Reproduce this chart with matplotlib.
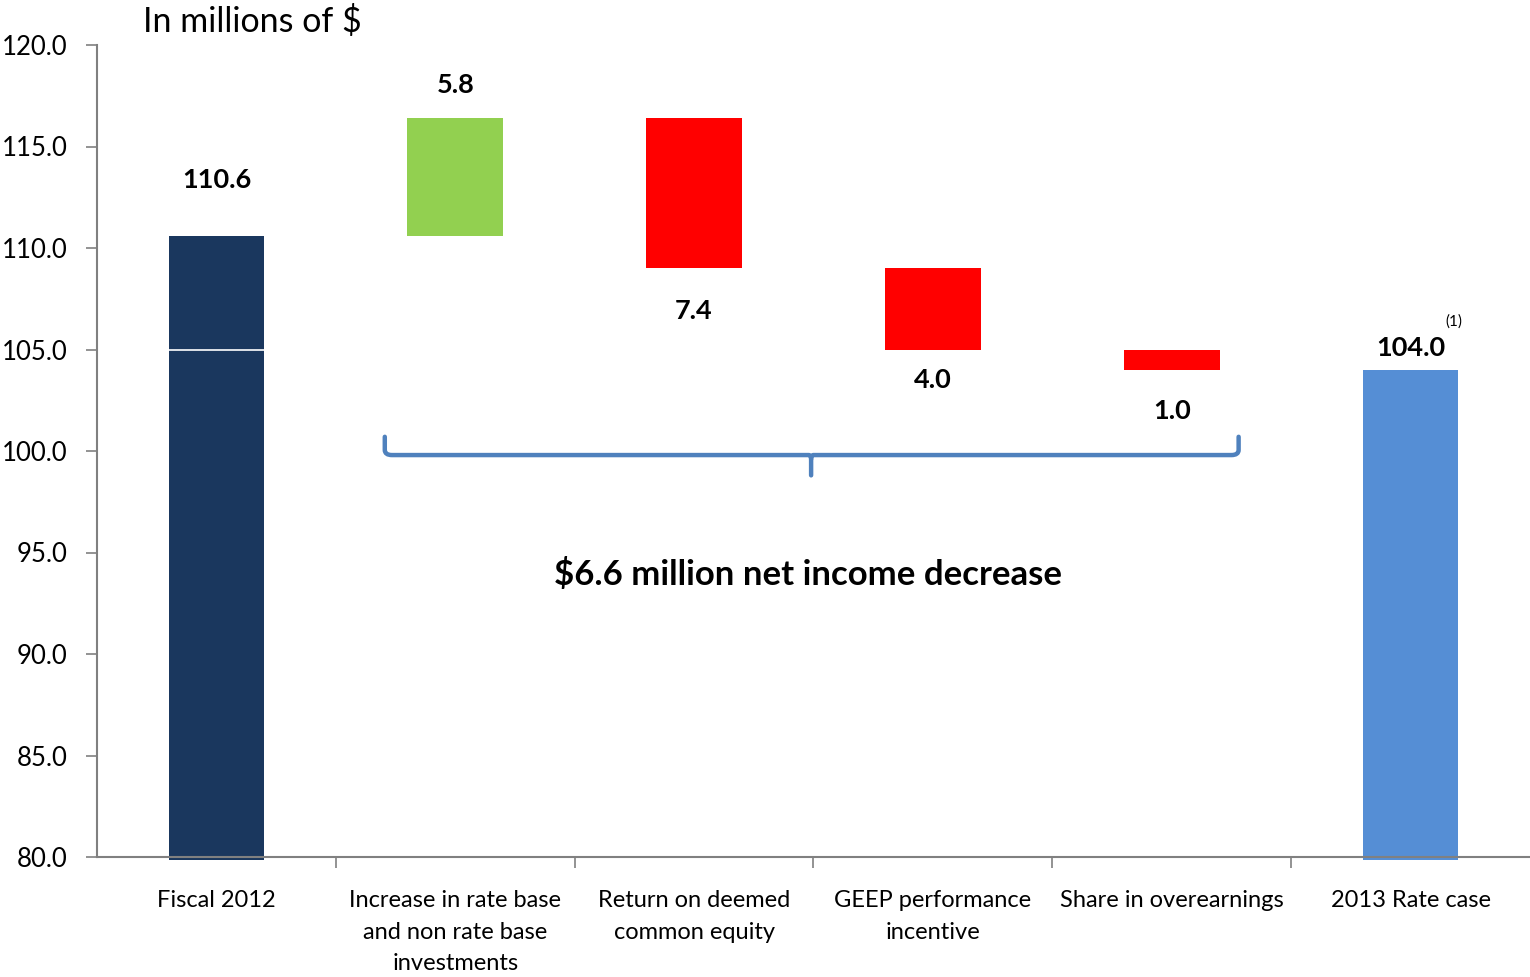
import matplotlib.pyplot as plt
from matplotlib.path import Path
from matplotlib.patches import PathPatch

categories = ["Fiscal 2012", "Increase in rate base\nand non rate base\ninvestments",
              "Return on deemed\ncommon equity", "GEEP performance\nincentive",
              "Share in overearnings", "2013 Rate case"]
start_value = 110.6
changes = [5.8, -7.4, -4.0, -1.0]
end_value = 104.0
value_labels = ["110.6", "5.8", "7.4", "4.0", "1.0", "104.0"]
y_ticks = [80, 85, 90, 95, 100, 105, 110, 115, 120]

NAVY = "#1A375E"
GREEN = "#92D050"
RED = "#FF0000"
BLUE = "#558ED5"
BRACE = "#4F81BD"

plt.rcParams['font.family'] = ['Lato', 'DejaVu Sans']

fig = plt.figure(figsize=(15.3, 9.77), dpi=100)
ax = fig.add_axes([97 / 1530, 120 / 977, 1433 / 1530, 812 / 977])

width = 0.4
floor = 80

# running totals for the floating bars
bottoms, heights, colors = [floor], [start_value - floor], [NAVY]
level = start_value
for c in changes:
    new = level + c
    bottoms.append(min(level, new))
    heights.append(abs(c))
    colors.append(GREEN if c > 0 else RED)
    level = new
bottoms.append(floor)
heights.append(end_value - floor)
colors.append(BLUE)

xs = list(range(len(categories)))
bars = ax.bar(xs, heights, bottom=bottoms, width=width, color=colors, zorder=2)
for b in (bars[0], bars[-1]):
    b.set_y(floor - 0.15)
    b.set_height(b.get_height() + 0.15)
    b.set_clip_on(False)

# thin white gridline artefact across the first bar
ax.hlines(105, xs[0] - width / 2, xs[0] + width / 2, color="white", lw=1.2, zorder=3)

# value labels: above for up bars/totals, below for decreases
offsets = [40, 24, -31, -22, -30, 16]
for i, (x, lab) in enumerate(zip(xs, value_labels)):
    top = bottoms[i] + heights[i]
    y = top if offsets[i] > 0 else bottoms[i]
    ax.annotate(lab, (x, y), xytext=(0, offsets[i]), textcoords="offset points",
                ha="center", va="center", fontsize=19.5, fontweight="bold", color="black")

ax.annotate("(1)", (xs[-1], end_value), xytext=(31, 35), textcoords="offset points",
            ha="center", va="center", fontsize=11, color="black")

# brace under the changes
x0, x1, xm = 0.705, 4.28, 2.49
yb, ytop, ytip = 99.8, 100.7, 98.8
r = 0.03
verts = [(x0, ytop), (x0, yb + 0.25), (x0, yb), (x0 + r, yb),
         (xm - 0.01, yb), (xm, yb), (xm, yb - 0.2), (xm, ytip)]
codes = [Path.MOVETO, Path.LINETO, Path.CURVE3, Path.CURVE3,
         Path.LINETO, Path.CURVE3, Path.CURVE3, Path.LINETO]
ax.add_patch(PathPatch(Path(verts, codes), fill=False, ec=BRACE, lw=3.2,
                       capstyle="round", joinstyle="round", zorder=4))
verts2 = [(x1, ytop), (x1, yb + 0.25), (x1, yb), (x1 - r, yb),
          (xm + 0.01, yb), (xm, yb), (xm, yb - 0.2)]
codes2 = [Path.MOVETO, Path.LINETO, Path.CURVE3, Path.CURVE3,
          Path.LINETO, Path.CURVE3, Path.CURVE3]
ax.add_patch(PathPatch(Path(verts2, codes2), fill=False, ec=BRACE, lw=3.2,
                       capstyle="round", joinstyle="round", zorder=4))

ax.text(2.475, 93.9, "$6.6 million net income decrease", ha="center", va="center",
        fontsize=25, fontweight="bold", color="black")

ax.set_xlim(-0.5, 5.5)
ax.set_ylim(80, 120)
ax.set_yticks(y_ticks)
ax.set_yticklabels([f"{t:.1f}" for t in y_ticks])
ax.set_xticks(xs)
ax.set_xticklabels(categories, fontsize=17, linespacing=1.6, va="top")
ax.tick_params(axis="x", length=0, pad=24)
ax.set_xticks([x + 0.5 for x in xs[:-1]], minor=True)
ax.tick_params(axis="x", which="minor", length=8, width=1.2, color="#808080")
ax.tick_params(axis="y", labelsize=18.5, length=8, width=1.2, color="#808080", pad=13)

for s in ("top", "right"):
    ax.spines[s].set_visible(False)
for s in ("left", "bottom"):
    ax.spines[s].set_color("#808080")
    ax.spines[s].set_linewidth(1.5)

fig.text(143 / 1530, 1 - 21 / 977, "In millions of $", ha="left", va="center",
         fontsize=24.5, color="black")

fig.savefig("out.png", dpi=100)
